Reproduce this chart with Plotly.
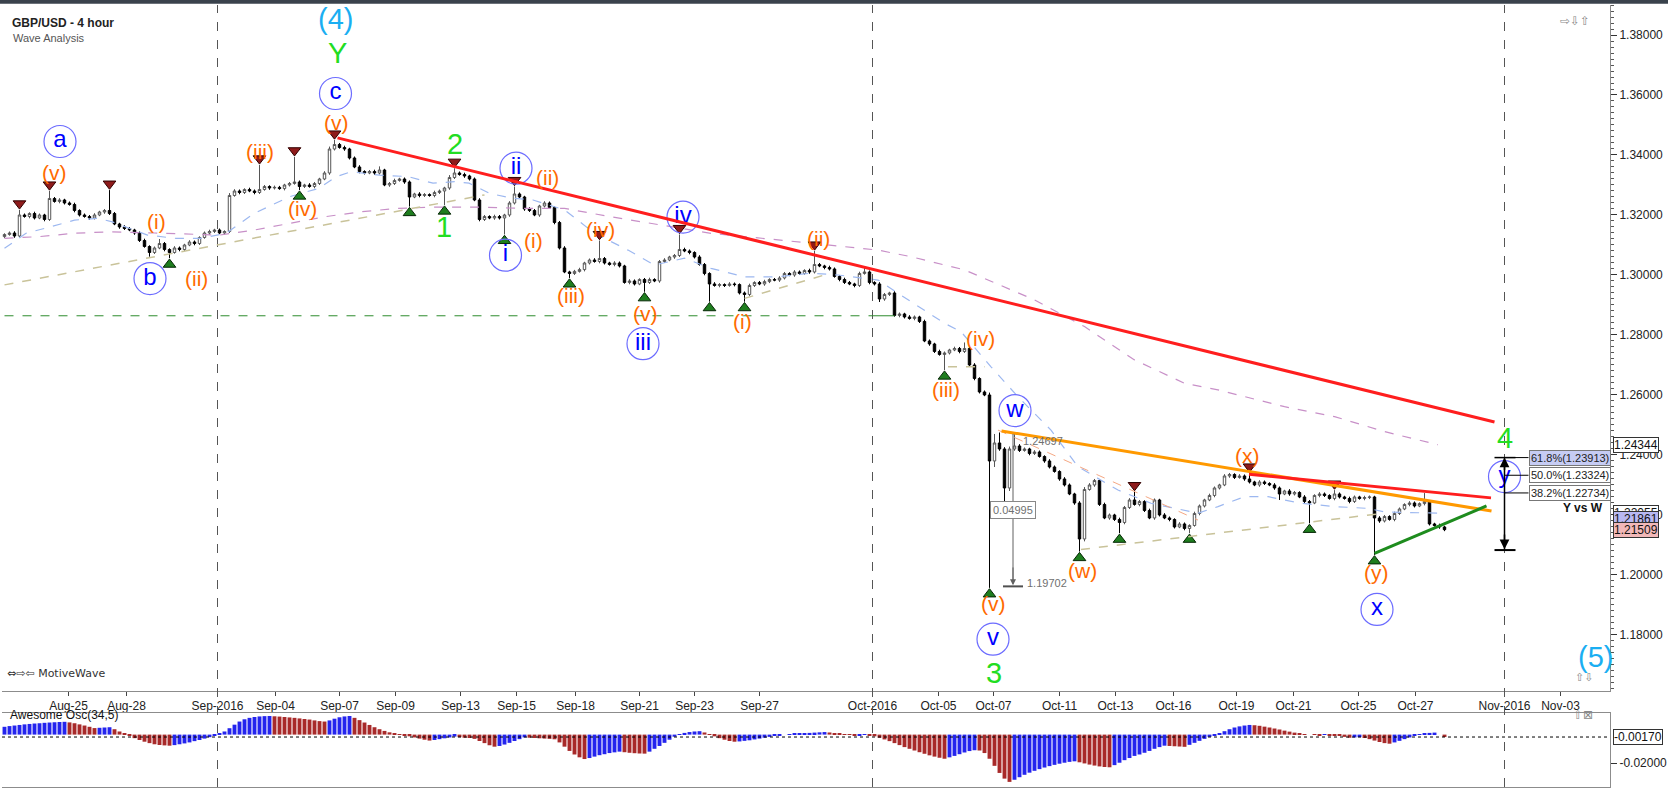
import plotly.graph_objects as go

# GBP/USD 4h bars: index 0 = first bar on screen (Aug 23 2016), 288 = last bar (Oct 28 2016)
# prices are stored in pips above 1.0000 (3135 -> 1.3135)
firstOpen = 3128
closes = [
    3135, 3140, 3130, 3200, 3195, 3205,
    3190, 3200, 3185, 3255, 3245, 3250,
    3240, 3235, 3215, 3200, 3195, 3190,
    3200, 3210, 3215, 3205, 3170, 3160,
    3155, 3150, 3140, 3115, 3095, 3075,
    3090, 3105, 3085, 3075, 3090, 3085,
    3100, 3110, 3105, 3125, 3140, 3145,
    3150, 3140, 3145, 3265, 3280, 3275,
    3285, 3280, 3275, 3285, 3295, 3290,
    3292, 3288, 3300, 3305, 3310, 3295,
    3300, 3295, 3305, 3320, 3340, 3420,
    3435, 3425, 3420, 3390, 3360, 3345,
    3340, 3345, 3340, 3350, 3300, 3305,
    3315, 3320, 3310, 3260, 3270, 3265,
    3268, 3265, 3275, 3280, 3290, 3325,
    3340, 3335, 3330, 3320, 3250, 3185,
    3195, 3190, 3195, 3190, 3200, 3240,
    3270, 3260, 3220, 3215, 3200, 3230,
    3240, 3225, 3175, 3090, 3010, 3005,
    3012, 3018, 3040, 3050, 3045, 3055,
    3040, 3035, 3040, 3030, 2975, 2980,
    2970, 2985, 2975, 2985, 2980, 3045,
    3050, 3060, 3065, 3085, 3080, 3075,
    3060, 3035, 3005, 2970, 2965, 2968,
    2965, 2970, 2968, 2940, 2935, 2965,
    2975, 2970, 2978, 2985, 2983, 2990,
    3005, 3000, 3010, 3005, 3015, 3010,
    3035, 3030, 3025, 3020, 2995, 2985,
    2975, 2970, 2965, 3005, 3010, 2975,
    2970, 2920, 2935, 2940, 2865, 2870,
    2860, 2855, 2860, 2845, 2780, 2770,
    2745, 2735, 2740, 2750, 2755, 2745,
    2755, 2700, 2655, 2610, 2600, 2380,
    2440, 2420, 2290, 2420, 2430, 2415,
    2420, 2405, 2410, 2395, 2380, 2360,
    2345, 2320, 2300, 2270, 2240, 2120,
    2285, 2300, 2315, 2235, 2190, 2200,
    2185, 2175, 2225, 2250, 2235, 2245,
    2215, 2190, 2250, 2200, 2190, 2185,
    2160, 2170, 2155, 2165, 2205, 2230,
    2250, 2265, 2290, 2300, 2330, 2335,
    2325, 2330, 2320, 2310, 2300, 2310,
    2305, 2300, 2290, 2270, 2280, 2270,
    2275, 2260, 2245, 2240, 2265, 2270,
    2265, 2255, 2270, 2260, 2255, 2245,
    2260, 2255, 2258, 2260, 2190, 2180,
    2195, 2185, 2205, 2220, 2235, 2240,
    2230, 2238, 2245, 2170, 2165, 2160,
    2151,
]
# wick lengths in pips above / below the candle body
hiWick = [
    4, 5, 6, 17, 5, 4, 6, 5, 4, 25, 5, 6,
    4, 5, 6, 4, 5, 5, 6, 4, 5, 68, 5, 4,
    6, 5, 4, 5, 6, 4, 5, 15, 5, 4, 6, 5,
    4, 6, 5, 4, 5, 6, 4, 5, 4, 8, 6, 5,
    4, 6, 5, 82, 5, 4, 6, 5, 4, 5, 84, 5,
    4, 6, 5, 4, 6, 8, 15, 5, 6, 4, 5, 6,
    4, 5, 6, 12, 4, 5, 6, 4, 5, 5, 4, 6,
    5, 4, 6, 5, 4, 8, 16, 5, 6, 4, 5, 6,
    5, 4, 6, 5, 4, 6, 25, 5, 4, 6, 5, 4,
    6, 5, 4, 5, 6, 4, 5, 6, 4, 5, 6, 60,
    5, 4, 6, 5, 4, 6, 5, 4, 5, 6, 4, 5,
    6, 4, 5, 50, 6, 5, 4, 6, 5, 4, 6, 5,
    4, 6, 5, 4, 5, 6, 4, 5, 6, 4, 5, 6,
    5, 4, 6, 5, 4, 6, 45, 5, 4, 6, 5, 4,
    6, 5, 4, 6, 15, 5, 4, 6, 5, 4, 6, 5,
    4, 6, 5, 4, 6, 5, 4, 6, 5, 4, 6, 5,
    20, 5, 6, 4, 5, 8, 30, 35, 6, 8, 40, 6,
    5, 4, 6, 5, 4, 6, 5, 4, 6, 5, 4, 6,
    8, 6, 5, 4, 6, 5, 4, 6, 5, 6, 28, 5,
    4, 6, 5, 4, 6, 5, 4, 6, 5, 4, 6, 5,
    4, 6, 5, 4, 6, 5, 4, 6, 5, 20, 4, 6,
    5, 4, 6, 5, 4, 6, 5, 4, 6, 5, 4, 6,
    5, 4, 13, 5, 4, 6, 5, 4, 6, 5, 4, 6,
    5, 4, 6, 5, 4, 6, 5, 4, 28, 5, 4, 6,
    4,
]
loWick = [
    5, 4, 6, 5, 4, 6, 5, 4, 6, 5, 4, 6,
    5, 4, 6, 5, 4, 6, 5, 4, 6, 5, 4, 6,
    5, 4, 6, 5, 4, 14, 5, 4, 6, 19, 4, 6,
    5, 4, 6, 5, 4, 6, 5, 4, 6, 5, 4, 6,
    5, 4, 6, 5, 4, 6, 5, 4, 6, 5, 4, 12,
    5, 4, 6, 5, 4, 6, 5, 4, 6, 5, 4, 6,
    5, 4, 6, 5, 4, 6, 5, 4, 6, 32, 4, 6,
    5, 4, 6, 5, 47, 6, 5, 4, 6, 5, 4, 6,
    5, 4, 6, 5, 55, 6, 5, 4, 6, 5, 4, 6,
    5, 4, 6, 5, 4, 15, 5, 4, 6, 5, 4, 6,
    5, 4, 6, 5, 4, 6, 5, 4, 31, 5, 4, 6,
    5, 4, 6, 5, 4, 6, 5, 4, 6, 59, 4, 6,
    5, 4, 6, 5, 24, 6, 5, 4, 6, 5, 4, 6,
    5, 4, 6, 5, 4, 6, 5, 4, 6, 5, 4, 6,
    5, 4, 6, 5, 4, 6, 5, 10, 6, 5, 4, 6,
    5, 4, 6, 5, 4, 6, 5, 4, 52, 5, 4, 6,
    5, 4, 6, 5, 4, 423, 20, 6, 45, 10, 6, 5,
    4, 6, 5, 4, 6, 5, 4, 6, 5, 4, 6, 42,
    8, 4, 6, 5, 4, 6, 5, 36, 6, 5, 4, 6,
    5, 4, 6, 5, 4, 6, 5, 4, 6, 16, 4, 6,
    5, 4, 6, 5, 4, 6, 5, 4, 6, 5, 4, 6,
    5, 4, 6, 20, 4, 6, 5, 4, 6, 68, 4, 6,
    5, 4, 6, 5, 4, 6, 5, 4, 6, 5, 123, 6,
    5, 4, 6, 5, 4, 6, 5, 4, 6, 5, 4, 6,
    5,
]
# Awesome Oscillator (34,5), in pips
ao = [
    55, 60, 64, 68, 72, 75, 78, 80, 83, 85, 87, 89, 90,
    86, 80, 72, 64, 55, 46,
    48, 50, 52,
    38, 22, 5,
    -10, -25, -38, -50, -60, -68, -73, -76, -78,
    -74, -68, -62, -55, -46, -38, -28, -18,
    -8, 5, 22,
    45, 70, 92, 108, 118, 124, 128,
    130, 131,
    129, 127, 124, 121, 118, 114, 110, 106, 100, 95, 92,
    100, 112, 122, 128, 131,
    118, 102, 85, 68, 52, 38, 26, 16, 8, 2,
    -5, -12, -20, -28, -36, -42,
    -38, -32, -26, -20, -14,
    -18, -22, -24, -30,
    -45, -60, -75, -85,
    -80, -70, -58, -45, -32, -20,
    -22, -24, -26, -28, -30, -33,
    -55, -85, -115, -140, -160, -172,
    -165, -155, -145, -138, -130, -125, -120,
    -124, -128, -131, -133, -134,
    -120, -100, -80, -58, -36, -15,
    2, 12, 18, 22, 24,
    15, 2, -12, -25, -36, -45, -50,
    -48, -44, -40, -34, -28, -22, -16, -10,
    -5, 0, 4, 6, 8, 10, 12, 14, 16, 18, 15, 10,
    5, 2, -2, -4, -3, -2, -4,
    -12, -22, -34, -46, -60, -74, -88, -100, -112, -124, -135, -146, -155, -163, -170,
    -160, -150, -138, -126, -116, -110, -112, -130, -170, -220, -270, -310, -333,
    -318, -300, -283, -268, -255, -243, -232, -222, -213, -205, -198, -192, -188,
    -195, -203, -211, -218, -224, -228, -230,
    -215, -198, -180, -165, -150, -140, -128, -115, -100, -88, -78,
    -80, -82, -84, -86,
    -72, -58, -44, -30, -16, -3,
    10, 24, 38, 50, 58, 64, 68,
    66, 62, 56, 50, 43, 36, 28, 21, 14, 8, 3,
    0, -2, -3, -2, -4, -5,
    -10, -16, -22, -20, -18, -24, -32, -42, -52, -60, -64,
    -55, -44, -32, -20, -8, 2,
    8, 12, 14,
    0, -17,
]

tickPos = [12.8, 24.4, 42.6, 54.2, 67, 78.2, 91.2, 102.4, 114.2, 127, 138, 151,
           173.6, 186.8, 197.8, 211, 222.2, 233.8, 246.4, 257.8, 270.8, 282.2, 300, 311.2]
tickText = ["Aug-25", "Aug-28", "Sep-2016", "Sep-04", "Sep-07", "Sep-09", "Sep-13", "Sep-15",
            "Sep-18", "Sep-21", "Sep-23", "Sep-27", "Oct-2016", "Oct-05", "Oct-07", "Oct-11",
            "Oct-13", "Oct-16", "Oct-19", "Oct-21", "Oct-25", "Oct-27", "Nov-2016", "Nov-03"]
monthLines = [42.6, 173.6, 300]

# moving averages (bar, price)
fastMaBar = [0, 4.3, 9.3, 14, 18.6, 21.4, 28.6, 34.3, 39.3, 44.3, 50, 57, 62.9, 66.4, 69.3, 75,
             80.7, 85.7, 90, 92.9, 97, 101.4, 105.7, 110, 112, 118, 124.7, 130, 136, 141.3, 148,
             154.7, 161.3, 166.7, 172, 174.7, 181.3, 188, 191.3, 197.3, 202.7, 209.3, 214.7,
             222.7, 229.3, 238.7, 242.7, 248, 252.7, 259.3, 266, 272.7, 276, 286.7]
fastMa = [1.3089, 1.3139, 1.3161, 1.3183, 1.3189, 1.3178, 1.3133, 1.3122, 1.3122, 1.3139, 1.3206,
          1.3261, 1.3289, 1.3328, 1.3344, 1.3333, 1.3328, 1.3306, 1.3311, 1.3306, 1.3272, 1.3256,
          1.3250, 1.3228, 1.3217, 1.3139, 1.3083, 1.3033, 1.3056, 1.3022, 1.2994, 1.2994, 1.3006,
          1.3000, 1.2989, 1.2983, 1.2911, 1.2839, 1.2811, 1.2694, 1.2594, 1.2483, 1.2361, 1.2283,
          1.2239, 1.2206, 1.2228, 1.2261, 1.2261, 1.2239, 1.2228, 1.2222, 1.2210, 1.2206]
slowMaBar = [0, 7, 14, 21, 30, 43, 50, 57, 64, 71.4, 78.6, 85.7, 95, 103.6, 112, 121.3, 131.3,
             141.3, 154.7, 168, 174.7, 181.3, 192, 206, 216, 226, 236, 242.7, 256, 266, 276, 286.7]
slowMa = [1.3122, 1.3128, 1.3139, 1.3144, 1.3140, 1.3133, 1.3150, 1.3172, 1.3194, 1.3211, 1.3222,
          1.3226, 1.3226, 1.3222, 1.3222, 1.3194, 1.3167, 1.3139, 1.3117, 1.3094, 1.3083, 1.3061,
          1.3017, 1.2917, 1.2828, 1.2717, 1.2639, 1.2617, 1.2561, 1.2528, 1.2478, 1.2434]

swingHighs = [3, 9, 21, 51, 58, 66, 90, 102, 119, 135, 162, 226, 249, 266]
swingLows = [33, 59, 81, 88, 100, 113, 128, 141, 148, 188, 197, 215, 223, 237, 261, 274]

fibNames = ["61.8%", "50.0%", "38.2%"]
fibPrices = [1.23913, 1.23324, 1.22734]
tagPrices = [1.24344, 1.22055, 1.21861, 1.21509]
aoLast = -0.00170

FONT = "Liberation Sans, Arial, sans-serif"
ORANGE = "#FF6A00"
GREEN = "#22DD22"
CYAN = "#1AAEF2"
BLUE = "#0000FF"

bars = list(range(len(closes)))
c = [1 + v / 10000 for v in closes]
o = [1 + v / 10000 for v in [firstOpen] + closes[:-1]]
h = [max(a, b) + w / 10000 for a, b, w in zip(o, c, hiWick)]
l = [min(a, b) - w / 10000 for a, b, w in zip(o, c, loWick)]
aoVals = [v / 10000 for v in ao]
aoColors = ["#2424EE" if i == 0 or ao[i] >= ao[i - 1] else "#A82A2A" for i in range(len(ao))]

fig = go.Figure()
fig.add_trace(go.Scatter(x=slowMaBar, y=slowMa, mode="lines", line=dict(color="#C890C8", width=1.2, dash="dash"), hoverinfo="skip"))
fig.add_trace(go.Scatter(x=fastMaBar, y=fastMa, mode="lines", line=dict(color="#9DB8F0", width=1.2, dash="dash"), hoverinfo="skip"))
fig.add_trace(go.Candlestick(
    x=bars, open=o, high=h, low=l, close=c, whiskerwidth=0,
    increasing=dict(line=dict(color="#555555", width=1), fillcolor="white"),
    decreasing=dict(line=dict(color="black", width=1), fillcolor="black"),
    hoverinfo="skip"))
fig.add_trace(go.Bar(x=bars, y=aoVals, marker=dict(color=aoColors, line=dict(width=0)),
                     xaxis="x2", yaxis="y2", hoverinfo="skip"))
fig.add_trace(go.Scatter(x=swingHighs, y=[h[b] + 0.0021 for b in swingHighs], mode="markers",
                         marker=dict(symbol="triangle-down", size=11, color="#8E1B1B", line=dict(color="#300000", width=1))))
fig.add_trace(go.Scatter(x=swingLows, y=[l[b] - 0.0021 for b in swingLows], mode="markers",
                         marker=dict(symbol="triangle-up", size=11, color="#1E7D1E", line=dict(color="#062806", width=1))))

# wave labels (text, bar, price)
orangeLabels = [("(v)", 10.0, 1.3342), ("(i)", 30.4, 1.3179), ("(ii)", 38.3, 1.2988), ("(iii)", 51.1, 1.3413),
                ("(iv)", 59.6, 1.3222), ("(v)", 66.4, 1.3509), ("(ii)", 108.5, 1.3324), ("(i)", 105.7, 1.3115),
                ("(iv)", 119.1, 1.3151), ("(iii)", 113.2, 1.2931), ("(v)", 128.1, 1.2871), ("(i)", 147.5, 1.2846),
                ("(ii)", 162.8, 1.3122), ("(iii)", 188.3, 1.2619), ("(iv)", 195.1, 1.2789), ("(v)", 197.7, 1.1906),
                ("(w)", 215.5, 1.2016), ("(x)", 248.5, 1.2399), ("(y)", 274.3, 1.2009)]
circleLabels = [("a", 11.1, 1.3445), ("b", 29.1, 1.2988), ("c", 66.2, 1.3605), ("ii", 102.3, 1.3356),
                ("i", 100.2, 1.3066), ("iv", 135.7, 1.3193), ("iii", 127.7, 1.2771), ("w", 202.1, 1.2548),
                ("v", 197.7, 1.1786), ("x", 274.5, 1.1885), ("y", 300, 1.2328)]
greenLabels = [("Y", 66.6, 1.3739), ("2", 90, 1.3438), ("1", 87.9, 1.3161), ("3", 197.9, 1.1672), ("4", 300, 1.2456)]
cyanLabels = [("(4)", 66.2, 1.3853), ("(5)", 318.1, 1.1728)]

fig.add_trace(go.Scatter(
    x=[t[1] for t in circleLabels], y=[t[2] for t in circleLabels], text=[t[0] for t in circleLabels],
    mode="markers+text", textposition="middle center",
    textfont=dict(family=FONT, size=24, color=BLUE),
    marker=dict(symbol="circle-open", size=32, color="#6C6CFF", line=dict(width=1.2)), hoverinfo="skip"))

annotations = []


def addText(text, x, y, size, color, xref="x", yref="y", **kw):
    annotations.append(dict(text=text, x=x, y=y, xref=xref, yref=yref, showarrow=False,
                            font=dict(family=kw.pop("family", FONT), size=size, color=color), **kw))


for t, x, y in orangeLabels:
    addText(t, x, y, 21, ORANGE)
for t, x, y in greenLabels:
    addText(t, x, y, 29, GREEN)
for t, x, y in cyanLabels:
    addText(t, x, y, 29, CYAN)

shapes = []


def addLine(x0, y0, x1, y1, color, width=1, dash=None, xref="x", yref="y"):
    shapes.append(dict(type="line", x0=x0, y0=y0, x1=x1, y1=y1, xref=xref, yref=yref,
                       line=dict(color=color, width=width, dash=dash)))


for m in monthLines:
    addLine(m, 0, m, 1, "#555555", 1, "dash", yref="paper")

# drawn trend lines
addLine(0, 1.2967, 96, 1.3267, "#C9C39A", 1.5, "dash")
addLine(148, 1.2922, 164, 1.3000, "#C9C39A", 1.5, "dash")
addLine(188.7, 1.2694, 196, 1.2694, "#C9C39A", 1.5, "dash")
addLine(215.3, 1.2085, 276, 1.2206, "#C9C39A", 1.5, "dash")
addLine(198.7, 1.2483, 238.7, 1.2183, "#F5A884", 1, "dash")
addLine(0, 1.2864, 173.6, 1.2864, "#2E8B2E", 1, "dash")
addLine(173.6, 1.2864, 178, 1.2864, "#2E8B2E", 1)
addLine(66.6, 1.3457, 298, 1.2510, "#FF1E1E", 3)
addLine(199.4, 1.2480, 297.4, 1.2213, "#FF9900", 3)
addLine(248.9, 1.2336, 297.3, 1.2257, "#FF1E1E", 3)
addLine(274, 1.2072, 296.4, 1.2230, "#1E8C1E", 3)

# measure tool at the flash crash
addLine(201.7, 1.2470, 201.7, 1.1972, "#606060", 1)
addLine(199.7, 1.1962, 203.7, 1.1962, "#505050", 2)
annotations.append(dict(x=201.7, y=1.1966, ax=201.7, ay=1.2030, xref="x", yref="y", axref="x", ayref="y",
                        text="", showarrow=True, arrowhead=2, arrowsize=1.2, arrowwidth=1, arrowcolor="#606060"))
addText("1.24697", 203.2, 1.2446, 11, "#707070", xanchor="left")
addText("1.19702", 204.0, 1.1972, 11, "#707070", xanchor="left")
addText("0.04995", 201.7, 1.2217, 11, "#707070", bgcolor="white", bordercolor="#888888", borderwidth=1, borderpad=2)

# Y vs W retracement tool
addLine(300, fibPrices[0], 300, 1.2083, "black", 1.5)
addLine(298, fibPrices[0], 302.2, fibPrices[0], "black", 1.5)
addLine(298, 1.2083, 302.2, 1.2083, "black", 2)
for fp in fibPrices:
    addLine(300, fp, 304.8, fp, "black", 1)
annotations.append(dict(x=300, y=fibPrices[0], ax=300, ay=1.2345, xref="x", yref="y", axref="x", ayref="y",
                        text="", showarrow=True, arrowhead=2, arrowsize=1.3, arrowwidth=1.5, arrowcolor="black"))
annotations.append(dict(x=300, y=1.2086, ax=300, ay=1.2140, xref="x", yref="y", axref="x", ayref="y",
                        text="", showarrow=True, arrowhead=2, arrowsize=1.3, arrowwidth=1.5, arrowcolor="black"))
for i, (nm, fp) in enumerate(zip(fibNames, fibPrices)):
    addText("%s(%.5f)" % (nm, fp), 304.9, fp, 11, "#222222", xanchor="left",
            bgcolor="#C6CCF4" if i == 0 else "white", bordercolor="#777777", borderwidth=1, borderpad=1)
addText("<b>Y vs W</b>", 315.6, 1.2222, 12, "#111111")

# price tags on the right axis
tagColors = ["white", "white", "#B8B8F2", "#F2B8B8"]
for tp, tc in zip(tagPrices, tagColors):
    addText("%.5f" % tp, 1.0, tp, 12, "#111111", xref="paper", xanchor="left", xshift=3,
            bgcolor=tc, bordercolor="#333333", borderwidth=1, borderpad=0)
addText("%.5f" % aoLast, 1.0, aoLast, 12, "#111111", xref="paper", yref="y2", xanchor="left", xshift=3,
        bgcolor="white", bordercolor="#333333", borderwidth=1, borderpad=0)
shapes.append(dict(type="line", xref="paper", yref="y2", x0=0, x1=1, y0=aoLast, y1=aoLast,
                   line=dict(color="black", width=1, dash="dot")))

# panel captions
addText("<b>GBP/USD - 4 hour</b>", 0, 0.9885, 12, "#222222", xref="paper", yref="paper", xanchor="left", xshift=8)
addText("Wave Analysis", 0, 0.9685, 11, "#555555", xref="paper", yref="paper", xanchor="left", xshift=9)
addText("⇔⇨⇦ MotiveWave", 0, 0.1345, 11, "#333333", xref="paper", yref="paper", xanchor="left", xshift=3,
        family="DejaVu Sans, sans-serif")
addText("Awesome Osc(34,5)", 0, 0.080, 12, "#111111", xref="paper", yref="paper", xanchor="left", xshift=6)
addText("⇨⇩⇧", 0.9885, 0.991, 12, "#8A8A8A", xref="paper", yref="paper", family="DejaVu Sans, sans-serif")
addText("⇧⇩", 0.9905, 0.1295, 11, "#8A8A8A", xref="paper", yref="paper", family="DejaVu Sans, sans-serif")
addText("⇧⊠", 0.9905, 0.080, 12, "#8A8A8A", xref="paper", yref="paper", family="DejaVu Sans, sans-serif")

# dark frame strip at the top of the window
shapes.append(dict(type="rect", xref="paper", yref="paper", x0=-0.01, x1=1.05, y0=1.0015, y1=1.01,
                   fillcolor="#3A424C", line=dict(width=0)))

fig.update_layout(
    width=1668, height=790,
    margin=dict(l=2, r=58, t=5, b=3),
    paper_bgcolor="white", plot_bgcolor="white",
    showlegend=False, bargap=0.22,
    font=dict(family=FONT, size=12, color="#222222"),
    xaxis=dict(domain=[0, 1], anchor="y", range=[-0.5, 321.1], tickvals=tickPos, ticktext=tickText,
               ticks="outside", ticklen=4, tickcolor="#444444", showgrid=False, zeroline=False,
               showline=True, linecolor="#8C8C8C", rangeslider=dict(visible=False),
               tickfont=dict(size=12, color="#222222")),
    yaxis=dict(domain=[0.1228, 1], anchor="x", side="right", range=[1.16133, 1.39], dtick=0.02,
               tickformat=".5f", ticks="outside", ticklen=6, tickcolor="#333333",
               minor=dict(dtick=0.002, ticks="outside", ticklen=3, tickcolor="#555555"),
               showgrid=False, zeroline=False, showline=True, linecolor="#8C8C8C",
               tickfont=dict(size=12, color="#222222")),
    xaxis2=dict(domain=[0, 1], anchor="y2", matches="x", showticklabels=False, showgrid=False,
                zeroline=False, showline=True, mirror=True, linecolor="#8C8C8C"),
    yaxis2=dict(domain=[0, 0.0946], anchor="x2", side="right", range=[-0.0369, 0.0152],
                tickvals=[-0.02], ticktext=["-0.02000"], ticks="outside", ticklen=6, tickcolor="#333333",
                showgrid=False, zeroline=False, showline=True, linecolor="#8C8C8C",
                tickfont=dict(size=12, color="#222222")),
    shapes=shapes,
    annotations=annotations,
)

fig.write_html("out.html", config={"displayModeBar": False},
               post_script="document.body.style.margin='0';")
